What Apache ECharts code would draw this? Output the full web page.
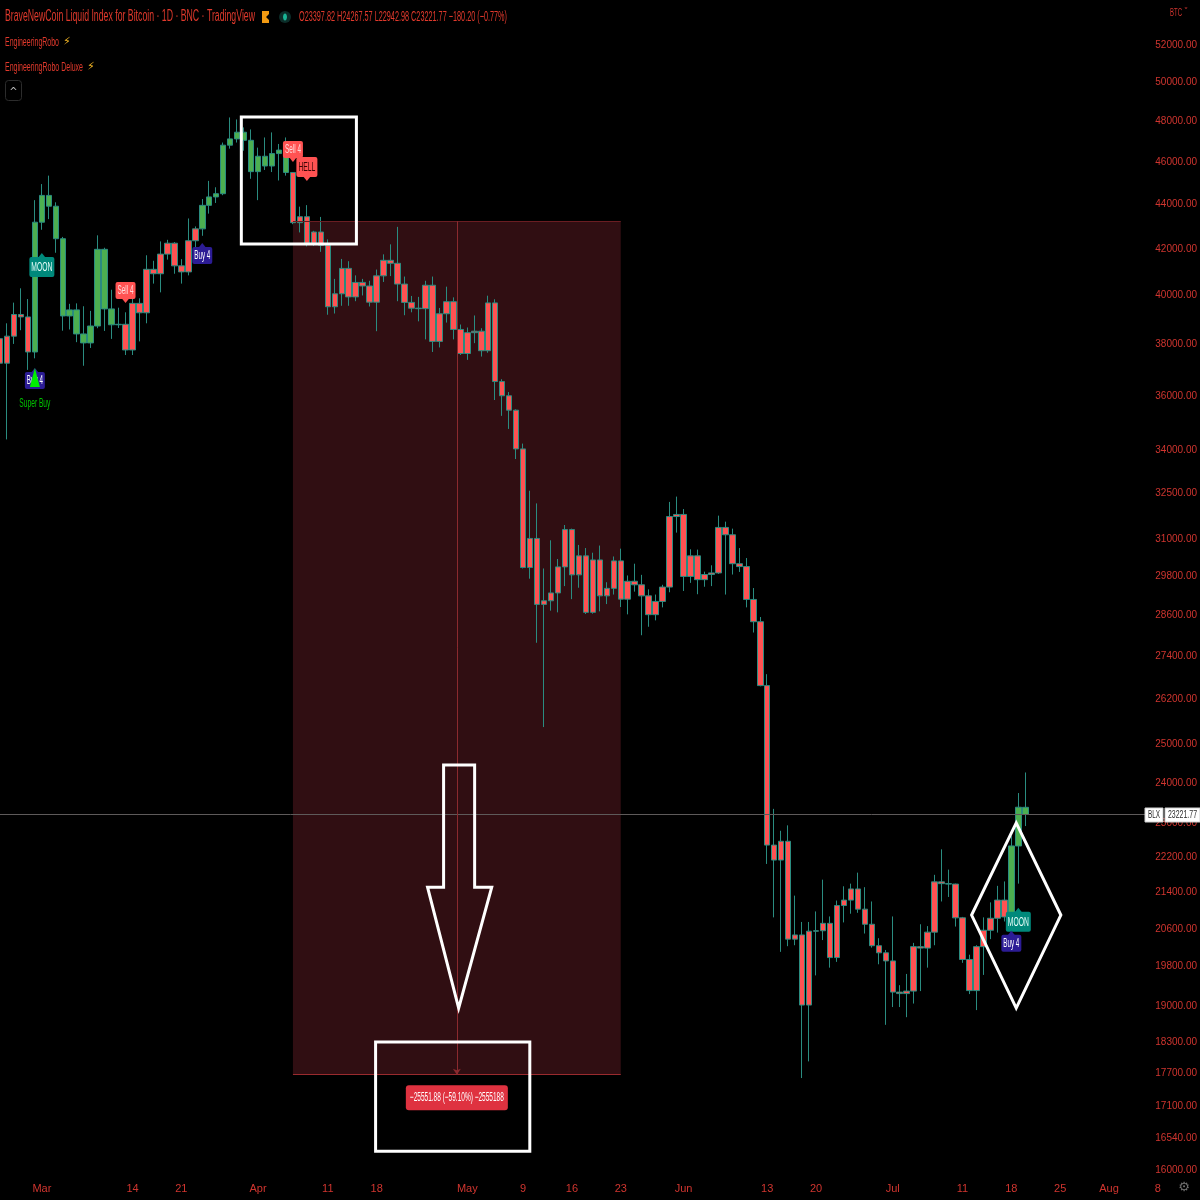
<!DOCTYPE html>
<html><head><meta charset="utf-8">
<script src="https://cdn.jsdelivr.net/npm/echarts@6/dist/echarts.min.js"></script>
<style>html,body{margin:0;padding:0;background:#000}#c{width:1200px;height:1200px}</style>
</head><body><div id="c"></div>
<script>
// ---------------- DATA ----------------
const firstDay = '2022-02-23';   // one candle per day from here
const opens = [
 38230,37260,38330,39210,39110,37700,43190,44420,43920,42450,
 39150,39400,38420,38060,38740,41980,39440,38790,38810,37780,
 39670,39280,41110,40920,41770,42250,41260,41000,42360,42890,
 43960,44350,44500,46820,47130,47460,47060,45540,46280,45810,
 46410,46580,45500,43170,43440,42250,42750,42160,39530,40070,
 41150,39940,40550,40400,39720,40830,41500,41370,40480,39710,
 39470,39450,40430,38120,39240,39740,38600,37640,38470,38530,
 37750,39690,36550,36010,35470,34060,30080,31010,28940,29050,
 29290,30100,31300,29850,30450,28700,30320,29200,29430,30290,
 29100,29650,29540,29200,28630,29030,29470,31730,31800,29800,
 30450,29700,29860,29910,31370,31130,30200,30110,29090,28420,
 26580,22490,22140,22580,20380,20470,19020,20550,20560,20720,
 19990,21110,21230,21480,21030,20700,20240,20090,19920,19280,
 19250,19300,20220,20190,20530,21640,21600,21590,20840,19950,
 19310,20220,20570,20830,21230,20860,22470,23397.82];
const highs = [
 39250,38850,39700,40300,39850,44200,44950,45350,44100,42530,
 39650,39670,39550,39360,42600,42050,40240,39490,39300,39950,
 39880,41720,41480,42330,42400,42300,41550,43360,43000,44250,
 45100,44800,46950,48200,48100,47700,47600,46700,47200,47450,
 46880,47200,45500,43900,43970,42800,43430,42420,40700,41560,
 41460,40850,40700,40620,41100,41760,42200,42980,40800,39980,
 39940,40620,40800,39480,40370,39920,38800,38680,39170,38650,
 39990,39840,36640,36150,35500,34250,32600,32170,30050,30950,
 30350,31450,31330,30800,30700,30550,30780,29620,30430,30680,
 29830,30200,29850,29400,29240,29540,32220,32400,31980,30660,
 30650,29950,30150,31760,31560,31330,30700,30380,29440,28560,
 26900,23360,22830,22960,21330,20750,20750,20980,21690,20870,
 21220,21540,21600,21850,21520,21200,20400,20150,20870,19420,
 19650,20300,20700,20660,21800,22390,21920,21600,20860,20050,
 20250,20850,21180,21550,21650,22700,23750,24267.57];
const lows = [
 37050,34400,38020,38570,37000,37450,42850,43330,41830,38550,
 38600,38090,37160,37860,38650,38540,38220,38660,37580,37580,
 38120,38850,40500,40130,41530,40920,40500,40850,41900,42580,
 43580,44070,44430,46650,46950,46550,45200,44200,45620,45520,
 45120,45350,43100,42730,42110,42130,41870,39200,39250,39570,
 39570,39760,40000,39540,38530,40570,40820,39760,39180,39300,
 38930,38200,37700,37880,38880,38200,37580,37390,38050,37520,
 37670,35850,35260,34780,33700,30050,29730,27800,25450,28750,
 28700,29500,29100,29450,28650,28660,28730,28950,29240,28860,
 28640,29330,28020,28270,28460,28850,29310,31200,29350,29600,
 29250,29480,29500,29880,29240,29860,29940,28850,28100,26560,
 22050,20850,20110,20230,20250,17620,17930,19620,20360,19780,
 19900,20740,20930,20950,20500,20200,19850,18630,18980,18980,
 18780,19050,19300,19780,20250,21200,21300,20650,19880,19240,
 18920,19630,20380,20520,20760,20760,21600,22942.98];
const closes = [
 37260,38330,39210,39110,37700,43190,44420,43920,42450,39150,
 39400,38420,38060,38740,41980,39440,38790,38810,37780,39670,
 39280,41110,40920,41770,42250,41260,41000,42360,42890,43960,
 44350,44500,46820,47130,47460,47060,45540,46280,45810,46410,
 46580,45500,43170,43440,42250,42750,42160,39530,40070,41150,
 39940,40550,40400,39720,40830,41500,41370,40480,39710,39470,
 39450,40430,38120,39240,39740,38600,37640,38470,38530,37750,
 39690,36550,36010,35470,34060,30080,31010,28940,29050,29290,
 30100,31300,29850,30450,28700,30320,29200,29430,30290,29100,
 29650,29540,29200,28630,29030,29470,31730,31800,29800,30450,
 29700,29860,29910,31370,31130,30200,30110,29090,28420,26580,
 22490,22140,22580,20380,20470,19020,20550,20560,20720,19990,
 21110,21230,21480,21030,20700,20240,20090,19920,19280,19250,
 19300,20220,20190,20530,21640,21600,21590,20840,19950,19310,
 20220,20570,20830,21230,20860,22470,23400,23221.77];
// days whose bars the indicator paints green
const greenRuns = [['2022-02-28','2022-03-12'],['2022-03-24','2022-04-05'],['2022-07-18','2022-07-20']];

const tickDates = ['2022-03-01','2022-03-14','2022-03-21','2022-04-01','2022-04-11','2022-04-18','2022-05-01','2022-05-09','2022-05-16','2022-05-23','2022-06-01','2022-06-13','2022-06-20','2022-07-01','2022-07-11','2022-07-18','2022-07-25','2022-08-01','2022-08-08'];
const tickTexts = ['Mar','14','21','Apr','11','18','May','9','16','23','Jun','13','20','Jul','11','18','25','Aug','8'];
const priceTicks = [52000,50000,48000,46000,44000,42000,40000,38000,36000,34000,32500,31000,29800,28600,27400,26200,25000,24000,23000,22200,21400,20600,19800,19000,18300,17700,17100,16540,16000];

// signal labels: [date, tip price, text, kind]
const signals = [
 ['2022-02-28',37070,'Buy 4','buy'],
 ['2022-03-01',41820,'MOON','moon'],
 ['2022-03-13',39690,'Sell 4','sell'],
 ['2022-03-24',42260,'Buy 4','buy'],
 ['2022-04-06',46000,'Sell 4','sell'],
 ['2022-04-08',45090,'HELL','hell'],
 ['2022-07-19',21060,'MOON','moon'],
 ['2022-07-18',20560,'Buy 4','buy']];
const superBuyDate = '2022-02-28', superBuyPrice = 37070;

// date & price range measurement
const rangeStart = '2022-04-06', rangeEnd = '2022-05-23';
const rangeTop = 43235, rangeBottom = 17683;
const rangeText = '\u221225551.88 (\u221259.10%) \u22122555188';
const lastPrice = 23221.77;

// hand-drawn white annotations, in [day index, price]
const boxA = [[34.6,48220],[51.1,42210]];
const boxB = [[53.85,18300],[75.96,16320]];
const arrowPts = [[63.6,24460],[68.05,24460],[68.05,21520],[70.5,21520],[65.76,18960],[61.3,21520],[63.6,21520]];
const diamondPts = [[145.7,23020],[152.1,20900],[145.7,18960],[139.3,20900]];

// ---------------- CHART ----------------
const DAY = 86400000;
const dayIndex = s => Math.round((Date.parse(s) - Date.parse(firstDay)) / DAY);
const labelMap = {};
tickDates.forEach((d, i) => labelMap[dayIndex(d)] = tickTexts[i]);
const inGreen = i => greenRuns.some(([a, b]) => i >= dayIndex(a) && i <= dayIndex(b));

const RED = '#ff5252', GREEN = '#4caf50';
const UPB = '#2a8c80', DNB = '#b03232';
const AXC = '#d0352f';
const NARROW = '"Liberation Sans Narrow","Liberation Sans",sans-serif';

const candles = opens.map((o, i) => {
  const fill = inGreen(i) ? GREEN : RED;
  return { value: [i, o, closes[i], lows[i], highs[i]],
    itemStyle: { color: fill, color0: fill, borderColor: UPB, borderColor0: DNB } };
});

const chart = echarts.init(document.getElementById('c'), null, { renderer: 'canvas' });
const option = {
  backgroundColor: '#000000',
  animation: false,
  grid: { left: 0, right: 37, top: 0, bottom: 25 },
  xAxis: {
    type: 'value', min: 0, max: 166.6,
    axisLine: { show: false }, axisTick: { show: false }, splitLine: { show: false },
    axisLabel: { customValues: tickDates.map(dayIndex), formatter: v => labelMap[Math.round(v)] || '',
      color: AXC, fontFamily: NARROW, fontSize: 11, margin: 8 }
  },
  yAxis: {
    type: 'log', logBase: 10, position: 'right', min: 15918, max: 54511, scale: true,
    axisLine: { show: false }, axisTick: { show: false }, splitLine: { show: false },
    axisLabel: { customValues: priceTicks, formatter: v => Math.round(v).toFixed(2),
      color: AXC, fontFamily: NARROW, fontSize: 10, align: 'right', margin: 35 }
  },
  series: [{
    type: 'candlestick', data: candles, barWidth: 6, clip: true,
    encode: { x: 0, y: [1, 2, 3, 4] },
    itemStyle: { borderWidth: 1 },
    markArea: { silent: true, itemStyle: { color: '#300e12' },
      data: [[{ coord: [dayIndex(rangeStart), rangeTop] }, { coord: [dayIndex(rangeEnd), rangeBottom] }]] },
    markLine: { silent: true, symbol: 'none', label: { show: false }, animation: false,
      data: [
        { yAxis: lastPrice, lineStyle: { color: '#5e5a5a', width: 1, type: 'solid' } },
        [{ coord: [dayIndex(rangeStart), rangeTop], lineStyle: { color: '#6a1d22', width: 1, type: 'solid' } },
         { coord: [dayIndex(rangeEnd), rangeTop] }],
        [{ coord: [dayIndex(rangeStart), rangeBottom], lineStyle: { color: '#9a2a2e', width: 1, type: 'solid' } },
         { coord: [dayIndex(rangeEnd), rangeBottom] }],
        [{ coord: [(dayIndex(rangeStart) + dayIndex(rangeEnd)) / 2, rangeTop], symbol: 'none',
           lineStyle: { color: '#8a2a2e', width: 1, type: 'solid' } },
         { coord: [(dayIndex(rangeStart) + dayIndex(rangeEnd)) / 2, rangeBottom], symbol: 'arrow', symbolSize: 6 }]
      ] }
  }]
};
chart.setOption(option);

// ---------------- OVERLAYS (placed through the chart's own scales) ----------------
const px = (d, p) => chart.convertToPixel({ xAxisIndex: 0, yAxisIndex: 0 }, [d, p]);
const cv = document.createElement('canvas').getContext('2d');
function fitText(text, x, y, w, size, fill, family, align) {
  cv.font = size + 'px ' + family;
  const m = cv.measureText(text).width || 1;
  return { type: 'text', x, y, scaleX: w / m, silent: true, z: 50,
    style: { text, fill, fontSize: size, fontFamily: family, verticalAlign: 'middle', align: align || 'left' } };
}
const g = [];
const W = '#ffffff';

// header
g.push(fitText('BraveNewCoin Liquid Index for Bitcoin \u00b7 1D \u00b7 BNC \u00b7 TradingView', 5, 17, 250, 16, '#e0392c', NARROW));
g.push({ type: 'polygon', shape: { points: [[262,11],[269,11],[269,14],[266,17],[269,20],[269,23],[262,23]] }, style: { fill: '#f29a12' }, silent: true });
g.push({ type: 'circle', shape: { cx: 285, cy: 17, r: 6 }, style: { fill: '#0c2d29' }, silent: true });
g.push({ type: 'ellipse', shape: { cx: 285, cy: 17, rx: 2, ry: 3.5 }, style: { fill: '#19b394' }, silent: true });
g.push(fitText('O23397.82 H24267.57 L22942.98 C23221.77 \u2212180.20 (\u22120.77%)', 299, 17, 208, 14, '#e0392c', NARROW));
g.push(fitText('EngineeringRobo', 5, 42, 54, 13, '#e0392c', NARROW));
g.push({ type: 'text', x: 63, y: 42, silent: true, style: { text: '\u26a1', fill: '#f0b323', fontSize: 11, fontFamily: 'DejaVu Sans', verticalAlign: 'middle' } });
g.push(fitText('EngineeringRobo Deluxe', 5, 67, 78, 13, '#e0392c', NARROW));
g.push({ type: 'text', x: 87, y: 67, silent: true, style: { text: '\u26a1', fill: '#f0b323', fontSize: 11, fontFamily: 'DejaVu Sans', verticalAlign: 'middle' } });
g.push({ type: 'rect', shape: { x: 5.5, y: 80.5, width: 16, height: 20, r: 3 }, style: { fill: '#000', stroke: '#2c2c2c', lineWidth: 1 }, silent: true });
g.push({ type: 'text', x: 13.5, y: 92, silent: true, style: { text: '^', fill: '#bbbbbb', fontSize: 10, fontFamily: 'DejaVu Sans', align: 'center', verticalAlign: 'middle' } });
g.push(fitText('BTC', 1170, 13, 12, 11, AXC, NARROW));
g.push({ type: 'text', x: 1186, y: 12, silent: true, style: { text: '\u02c5', fill: AXC, fontSize: 9, fontFamily: 'DejaVu Sans', align: 'center', verticalAlign: 'middle' } });
g.push({ type: 'text', x: 1184, y: 1188, silent: true, style: { text: '\u2699', fill: '#6f6f6f', fontSize: 13, fontFamily: 'DejaVu Sans', align: 'center', verticalAlign: 'middle' } });

// last price tag
const ly = Math.round(px(0, lastPrice)[1]);
g.push({ type: 'rect', shape: { x: 1145, y: ly - 7, width: 18, height: 14 }, style: { fill: '#ffffff', stroke: '#cfcfcf' }, silent: true, z: 60 });
g.push(fitText('BLX', 1154, ly, 12, 10, '#2a2a2a', NARROW, 'center'));
g.push({ type: 'rect', shape: { x: 1165, y: ly - 7, width: 35, height: 14 }, style: { fill: '#ffffff', stroke: '#cfcfcf' }, silent: true, z: 60 });
g.push(fitText('23221.77', 1182.5, ly, 29, 10, '#2a2a2a', NARROW, 'center'));
g.forEach(e => { if (e.z == null) e.z = 50; });
g.filter(e => e.type === 'text').forEach(e => e.z = 61);

// signal labels
const kinds = {
  buy:  { bg: '#2c1c95', fg: '#ffffff', w: 20, h: 17, dir: 'up' },
  moon: { bg: '#00897b', fg: '#e8fffb', w: 25, h: 20, dir: 'up' },
  sell: { bg: '#ff5252', fg: '#ffd9d9', w: 20, h: 17, dir: 'down' },
  hell: { bg: '#ff5252', fg: '#3d0505', w: 21, h: 20, dir: 'down' }
};
(function () {
  const [sx, sy] = px(dayIndex(superBuyDate), superBuyPrice);
  signals.forEach(s => {
    const k = kinds[s[3]];
    const [x, tip] = px(dayIndex(s[0]), s[1]);
    const top = k.dir === 'up' ? tip + 4 : tip - 4 - k.h;
    const tri = k.dir === 'up' ? [[x - 4, top + 1], [x, tip], [x + 4, top + 1]] : [[x - 4, top + k.h - 1], [x, tip], [x + 4, top + k.h - 1]];
    g.push({ type: 'polygon', shape: { points: tri }, style: { fill: k.bg }, silent: true, z: 70 });
    g.push({ type: 'rect', shape: { x: x - k.w / 2, y: top, width: k.w, height: k.h, r: 2 }, style: { fill: k.bg }, silent: true, z: 70 });
    const t = fitText(s[2], x, top + k.h / 2 + 0.5, k.w - 4, 12, k.fg, NARROW, 'center');
    t.z = 71; g.push(t);
  });
  g.push({ type: 'polygon', shape: { points: [[sx, sy], [sx + 5, sy + 19], [sx - 5, sy + 19]] }, style: { fill: '#00ee00' }, silent: true, z: 72 });
  const st = fitText('Super Buy', sx, sy + 36, 31, 12, '#00c400', NARROW, 'center');
  st.z = 72; g.push(st);
})();

// range label
(function () {
  const cx = px((dayIndex(rangeStart) + dayIndex(rangeEnd)) / 2, 17270);
  g.push({ type: 'rect', shape: { x: cx[0] - 51, y: cx[1] - 12, width: 102, height: 25, r: 3 }, style: { fill: '#df3240' }, silent: true, z: 70 });
  const t = fitText(rangeText, cx[0], cx[1] + 0.5, 94, 12, '#ffffff', NARROW, 'center');
  t.z = 71; g.push(t);
})();

// white hand-drawn shapes
function rectOf(b) {
  const a = px(b[0][0], b[0][1]), c = px(b[1][0], b[1][1]);
  return { type: 'rect', shape: { x: a[0], y: a[1], width: c[0] - a[0], height: c[1] - a[1] },
    style: { fill: null, stroke: W, lineWidth: 3 }, silent: true, z: 80 };
}
g.push(rectOf(boxA));
g.push(rectOf(boxB));
g.push({ type: 'polygon', shape: { points: arrowPts.map(p => px(p[0], p[1])) }, style: { fill: null, stroke: W, lineWidth: 3, lineJoin: 'miter' }, silent: true, z: 80 });
g.push({ type: 'polygon', shape: { points: diamondPts.map(p => px(p[0], p[1])) }, style: { fill: null, stroke: W, lineWidth: 3, lineJoin: 'miter' }, silent: true, z: 80 });

chart.setOption({ graphic: g });
</script>
</body></html>
